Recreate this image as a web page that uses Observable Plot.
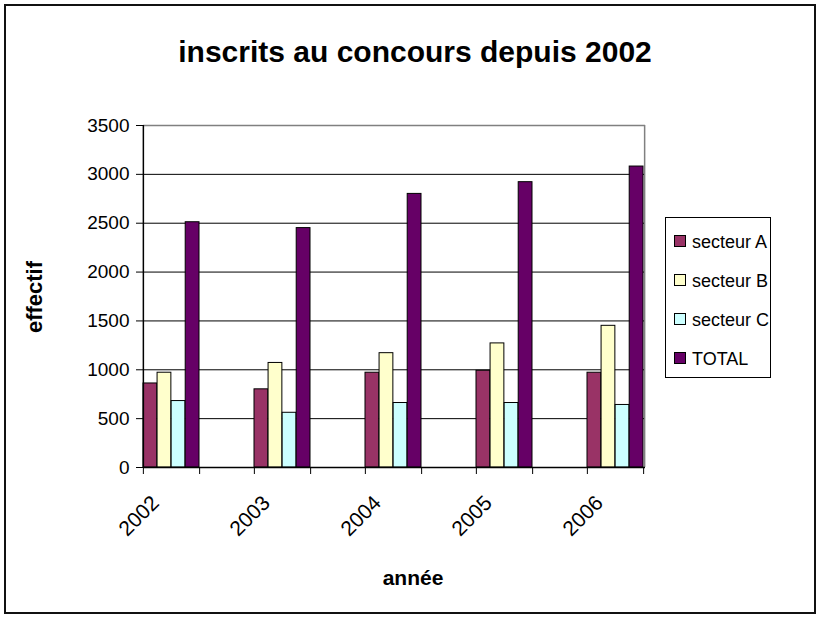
<!DOCTYPE html>
<html>
<head>
<meta charset="utf-8">
<script src="https://cdn.jsdelivr.net/npm/d3@7"></script>
<script src="https://cdn.jsdelivr.net/npm/@observablehq/plot@0.6"></script>
<style>
  body { margin: 0; background: #fff; font-family: "Liberation Sans", Arial, sans-serif; }
  #wrap { position: relative; width: 820px; height: 619px; overflow: hidden; }
  #border { position: absolute; left: 4px; top: 4px; width: 812px; height: 610px; border: 2px solid #111; box-sizing: border-box; }
  #title { position: absolute; left: 0; width: 830px; top: 35px; text-align: center; font-weight: bold; font-size: 30px; color: #000; }
  #ylab { position: absolute; left: 35px; top: 297px; transform: translate(-50%, -50%) rotate(-90deg); font-weight: bold; font-size: 22px; white-space: nowrap; }
  #xlab { position: absolute; left: 0; width: 826px; top: 566px; text-align: center; font-weight: bold; font-size: 21px; }
  #legend { position: absolute; left: 665px; top: 217px; width: 106px; height: 161px; border: 1px solid #000; box-sizing: border-box; background: #fff; }
  .item { position: absolute; left: 8px; font-size: 18px; white-space: nowrap; line-height: 1; }
  .sw { display: inline-block; width: 10px; height: 10px; border: 1px solid #000; margin-right: 6px; vertical-align: 1px; }
  #chart { position: absolute; left: 0; top: 0; }
</style>
</head>
<body>
<div id="wrap">
  <div id="chart"></div>
  <div id="border"></div>
  <div id="title"></div>
  <div id="ylab"></div>
  <div id="xlab"></div>
  <div id="legend"></div>
</div>
<script>
// ---- data ----
const years = ["2002", "2003", "2004", "2005", "2006"];
const seriesNames = ["secteur A", "secteur B", "secteur C", "TOTAL"];
const secteurA = [860, 800, 970, 990, 970];
const secteurB = [970, 1070, 1170, 1270, 1450];
const secteurC = [680, 560, 660, 660, 640];
const totalVals = [2510, 2450, 2800, 2920, 3080];
const seriesColors = ["#993366", "#FFFFCC", "#CCFFFF", "#660066"];
const yTicks = [0, 500, 1000, 1500, 2000, 2500, 3000, 3500];
const titleText = "inscrits au concours depuis 2002";
const yLabel = "effectif";
const xLabel = "année";

const seriesValues = [secteurA, secteurB, secteurC, totalVals];
const rows = [];
seriesNames.forEach((s, j) => years.forEach((y, i) => rows.push({year: y, series: s, value: seriesValues[j][i]})));

// ---- layout ----
const W = 820, H = 619;
const mL = 143, mR = 175, mT = 125, mB = 152;
const padInner = 0.495;
const plotW = W - mL - mR;
const step = plotW / (years.length - padInner);
const bw = step * (1 - padInner);
const slot = bw / seriesNames.length;

const barMarks = seriesNames.map((s, j) =>
  Plot.barY(rows.filter(r => r.series === s), {
    x: "year", y: "value", fill: seriesColors[j], stroke: "#000", strokeWidth: 1,
    insetLeft: j * slot, insetRight: (seriesNames.length - 1 - j) * slot
  })
);

const chart = Plot.plot({
  width: W, height: H,
  marginLeft: mL, marginRight: mR, marginTop: mT, marginBottom: mB,
  style: {fontFamily: "Liberation Sans, Arial, sans-serif", fontSize: "19px", color: "#000", background: "transparent"},
  x: {type: "band", domain: years, paddingInner: padInner, paddingOuter: 0, align: 0, axis: null, label: null},
  y: {domain: [0, 3500], axis: null, label: null},
  marks: [
    Plot.ruleY(yTicks.filter(t => t > 0 && t < 3500), {stroke: "#000", strokeWidth: 1}),
    Plot.ruleY([3500], {stroke: "#808080", strokeWidth: 1.5}),
    Plot.ruleX([years[years.length - 1]], {x: d => d, dx: bw / 2 + 1, stroke: "#808080", strokeWidth: 1.5}),
    ...barMarks,
    Plot.ruleY([0], {stroke: "#000", strokeWidth: 1.5}),
    Plot.ruleX([years[0]], {x: d => d, dx: -bw / 2, stroke: "#000", strokeWidth: 1.5}),
    Plot.axisY({ticks: yTicks, tickSize: 7, tickPadding: 7, tickFormat: d => String(d), fontSize: 19, stroke: "#000", label: null}),
    Plot.axisX({ticks: years, tickSize: 7, dx: -bw / 2, tickFormat: () => "", stroke: "#000", label: null}),
    Plot.axisX({ticks: years, tickSize: 7, dx: bw / 2, tickFormat: () => "", stroke: "#000", label: null}),
    Plot.axisX({ticks: years, tickSize: 0, tickPadding: 32, tickRotate: -45, dx: -16, fontSize: 21, tickFormat: d => d, label: null})
  ]
});
document.getElementById("chart").appendChild(chart);

document.getElementById("title").textContent = titleText;
document.getElementById("ylab").textContent = yLabel;
document.getElementById("xlab").textContent = xLabel;

const legend = document.getElementById("legend");
seriesNames.forEach((s, j) => {
  const it = document.createElement("div");
  it.className = "item";
  it.style.top = (15 + j * 39) + "px";
  const sw = document.createElement("span");
  sw.className = "sw";
  sw.style.background = seriesColors[j];
  it.appendChild(sw);
  it.appendChild(document.createTextNode(s));
  legend.appendChild(it);
});
</script>
</body>
</html>
